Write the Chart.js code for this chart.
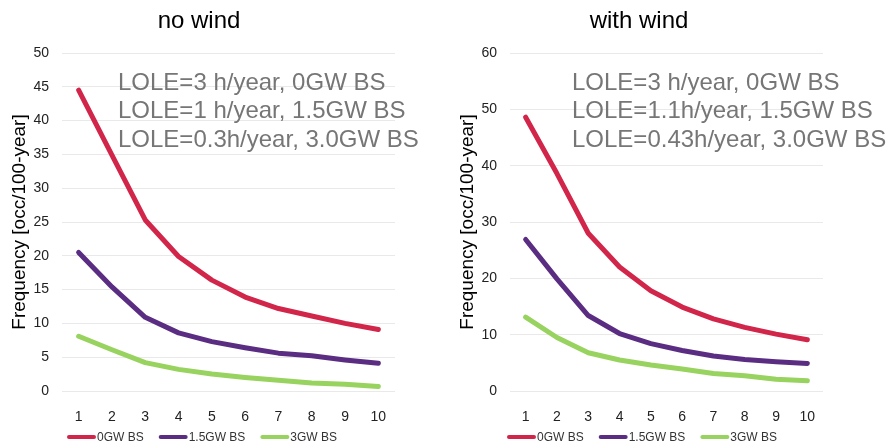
<!DOCTYPE html>
<html><head><meta charset="utf-8">
<script src="https://cdn.jsdelivr.net/npm/chart.js@4.4.1/dist/chart.umd.min.js"></script>
<style>
html,body{margin:0;padding:0;background:#fff;width:892px;height:448px;overflow:hidden}
.wrap{position:absolute;top:0;width:446px;height:448px}
</style></head><body>
<div class="wrap" style="left:0"><canvas id="c1" width="446" height="448"></canvas></div>
<div class="wrap" style="left:446px"><canvas id="c2" width="446" height="448"></canvas></div>
<script>
const categories = ['1','2','3','4','5','6','7','8','9','10'];
const seriesLabels = ['0GW BS','1.5GW BS','3GW BS'];
const noWind0 = [44.5,34.9,25.3,19.9,16.4,13.9,12.2,11.1,10.0,9.1];
const noWind15 = [20.5,15.4,10.9,8.6,7.3,6.4,5.6,5.2,4.6,4.1];
const noWind3 = [8.1,6.1,4.2,3.2,2.5,2.0,1.6,1.2,1.0,0.65];
const wind0 = [48.6,38.6,28.0,22.0,17.8,14.9,12.8,11.3,10.1,9.1];
const wind15 = [26.9,19.9,13.4,10.2,8.4,7.2,6.2,5.6,5.2,4.9];
const wind3 = [13.1,9.5,6.8,5.5,4.6,3.9,3.1,2.7,2.1,1.8];
const noWindNotes = ['LOLE=3 h/year, 0GW BS','LOLE=1 h/year, 1.5GW BS','LOLE=0.3h/year, 3.0GW BS'];
const windNotes = ['LOLE=3 h/year, 0GW BS','LOLE=1.1h/year, 1.5GW BS','LOLE=0.43h/year, 3.0GW BS'];
const colors = ['#d2254a','#5a2d82','#97d35e'];
const FONT = 'Liberation Sans, Arial, sans-serif';

const decor = {
  id:'decor',
  afterDraw(chart, args, o){
    const ctx = chart.ctx, a = chart.chartArea;
    ctx.save();
    ctx.fillStyle = '#000';
    ctx.font = '24px ' + FONT;
    ctx.textAlign = 'center'; ctx.textBaseline = 'middle';
    ctx.fillText(o.title, o.titleX, 21);
    ctx.fillStyle = '#767676';
    ctx.font = '24px ' + FONT;
    ctx.textAlign = 'left';
    o.notes.forEach((t,i)=>ctx.fillText(t, a.left + o.noteDx, 83 + i*28.5));
    // legend
    ctx.font = '12px ' + FONT;
    let x = o.legendX; const y = 437;
    chart.data.datasets.forEach(ds=>{
      ctx.strokeStyle = ds.borderColor; ctx.lineWidth = 4; ctx.lineCap='round';
      ctx.beginPath(); ctx.moveTo(x+2,y); ctx.lineTo(x+27,y); ctx.stroke();
      x += 30;
      ctx.fillStyle = '#333';
      ctx.fillText(ds.label, x, y+1);
      x += ctx.measureText(ds.label).width + 15;
    });
    ctx.restore();
  }
};

function make(id, data, max, step, notes, title, titleX, legendX, yw, padR, noteDx, titlePad){
  new Chart(document.getElementById(id), {
    type:'line',
    data:{labels:categories, datasets:data.map((d,i)=>({label:seriesLabels[i], data:d, borderColor:colors[i], backgroundColor:colors[i], borderWidth:5, pointRadius:0, tension:0, borderCapStyle:'round', borderJoinStyle:'round'}))},
    options:{
      responsive:false, animation:false, devicePixelRatio:1,
      layout:{padding:{top:53,right:padR,left:0,bottom:0}},
      plugins:{legend:{display:false}, tooltip:{enabled:false},
        decor:{title, titleX, legendX, notes, noteDx}},
      scales:{
        x:{offset:true, grid:{display:false}, border:{display:false},
           ticks:{color:'#222', font:{size:14, family:FONT}, padding:10, maxRotation:0},
           afterFit(s){s.height = 57;}},
        y:{min:0, max:max, grid:{color:'#e9e9e9', drawTicks:false}, border:{display:false},
           ticks:{stepSize:step, color:'#222', font:{size:14, family:FONT}, padding:13},
           title:{display:true, text:'Frequency [occ/100-year]', color:'#000', font:{size:19, family:FONT}, padding:{top:titlePad,bottom:4}},
           afterFit(s){s.width = yw;}}
      }
    },
    plugins:[decor]
  });
}
make('c1',[noWind0,noWind15,noWind3],50,5,noWindNotes,'no wind',199,67,62,51,56,8);
make('c2',[wind0,wind15,wind3],60,10,windNotes,'with wind',193,61,64,69,62,10);
</script></body></html>
